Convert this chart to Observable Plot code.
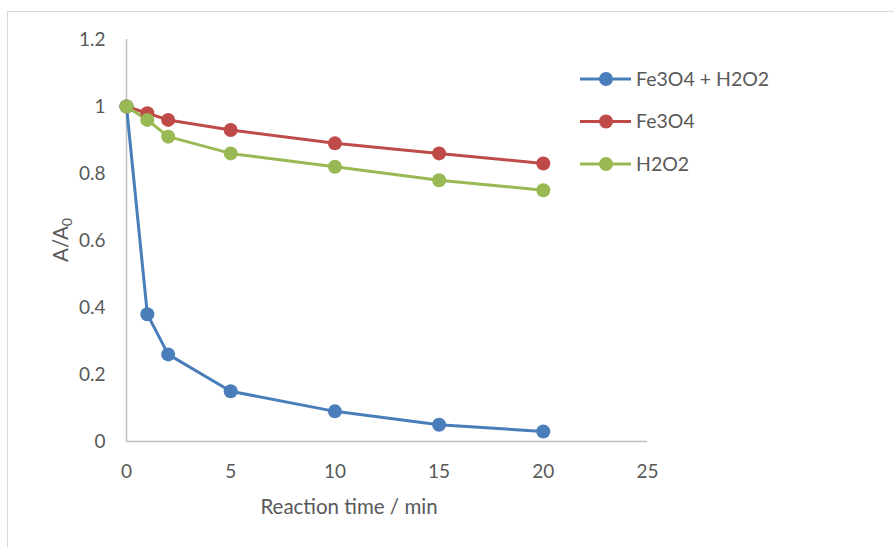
<!DOCTYPE html>
<html>
<head>
<meta charset="utf-8">
<script src="https://cdn.jsdelivr.net/npm/d3@7"></script>
<script src="https://cdn.jsdelivr.net/npm/@observablehq/plot@0.6"></script>
<style>
  html, body { margin: 0; padding: 0; background: #fff; }
  #chart { position: relative; width: 894px; height: 547px; }
</style>
</head>
<body>
<div id="chart"></div>
<script>
const times = [0, 1, 2, 5, 10, 15, 20];
const seriesNames = ["Fe3O4 + H2O2", "Fe3O4", "H2O2"];
const fe3o4H2o2 = [1.0, 0.38, 0.26, 0.15, 0.09, 0.05, 0.03];
const fe3o4 = [1.0, 0.98, 0.96, 0.93, 0.89, 0.86, 0.83];
const h2o2 = [1.0, 0.96, 0.91, 0.86, 0.82, 0.78, 0.75];
const seriesColors = ["#4a7ebb", "#be4b48", "#98b954"];
const xTicks = [0, 5, 10, 15, 20, 25];
const yTicks = [0, 0.2, 0.4, 0.6, 0.8, 1.0, 1.2];

const valuesBySeries = [fe3o4H2o2, fe3o4, h2o2];
const data = [];
seriesNames.forEach((s, i) => {
  times.forEach((t, j) => data.push({series: s, t, v: valuesBySeries[i][j]}));
});

const FONT = "Lato, sans-serif";
const TEXT = "#595959";
const AXIS = "#bfbfbf";

const chart = Plot.plot({
  width: 894,
  height: 547,
  marginLeft: 126,
  marginRight: 247,
  marginTop: 39,
  marginBottom: 106,
  style: {fontFamily: FONT, fontSize: "19px", color: TEXT, background: "#fff"},
  x: {domain: [0, 25], ticks: xTicks},
  y: {domain: [0, 1.2], ticks: yTicks},
  color: {domain: seriesNames, range: seriesColors},
  marks: [
    Plot.ruleX([0], {stroke: AXIS, strokeWidth: 1.5}),
    Plot.ruleY([0], {stroke: AXIS, strokeWidth: 1.5}),
    Plot.axisX({ticks: xTicks, tickSize: 0, tickPadding: 23, label: null, fill: TEXT, fontSize: 19}),
    Plot.axisY({ticks: yTicks, tickSize: 0, tickPadding: 21, label: null, fill: TEXT, fontSize: 19,
      tickFormat: d => String(+d.toFixed(1))}),
    Plot.line(data, {x: "t", y: "v", z: "series", stroke: "series", strokeWidth: 3}),
    Plot.dot(data, {x: "t", y: "v", fill: "series", r: 7})
  ]
});

const svg = d3.select(chart);
// outer chart frame (light gray)
svg.insert("rect", ":first-child")
  .attr("x", 7.5).attr("y", 11.5).attr("width", 1000).attr("height", 1000)
  .attr("fill", "none").attr("stroke", "#d9d9d9").attr("stroke-width", 1);

// axis titles
svg.append("text")
  .attr("x", 349).attr("y", 514)
  .attr("text-anchor", "middle")
  .attr("font-family", FONT).attr("font-size", 20.5).attr("fill", TEXT)
  .text("Reaction time / min");

const yl = svg.append("text")
  .attr("transform", "translate(68,240) rotate(-90)")
  .attr("text-anchor", "middle")
  .attr("font-family", FONT).attr("font-size", 20.5).attr("fill", TEXT);
yl.append("tspan").text("A/A");
yl.append("tspan").attr("font-size", 14).attr("dy", "0.3em").text("0");

// legend
const lg = svg.append("g").attr("text-anchor", "start");
seriesNames.forEach((s, i) => {
  const y = 79 + i * 42.5;
  lg.append("line").attr("x1", 580).attr("x2", 631).attr("y1", y).attr("y2", y)
    .attr("stroke", seriesColors[i]).attr("stroke-width", 3);
  lg.append("circle").attr("cx", 606).attr("cy", y).attr("r", 7).attr("fill", seriesColors[i]);
  lg.append("text").attr("x", 636).attr("y", y).attr("dy", "0.35em")
    .attr("text-anchor", "start")
    .attr("font-family", FONT).attr("font-size", 19.5).attr("fill", TEXT).text(s);
});

document.getElementById("chart").appendChild(chart);
</script>
</body>
</html>
